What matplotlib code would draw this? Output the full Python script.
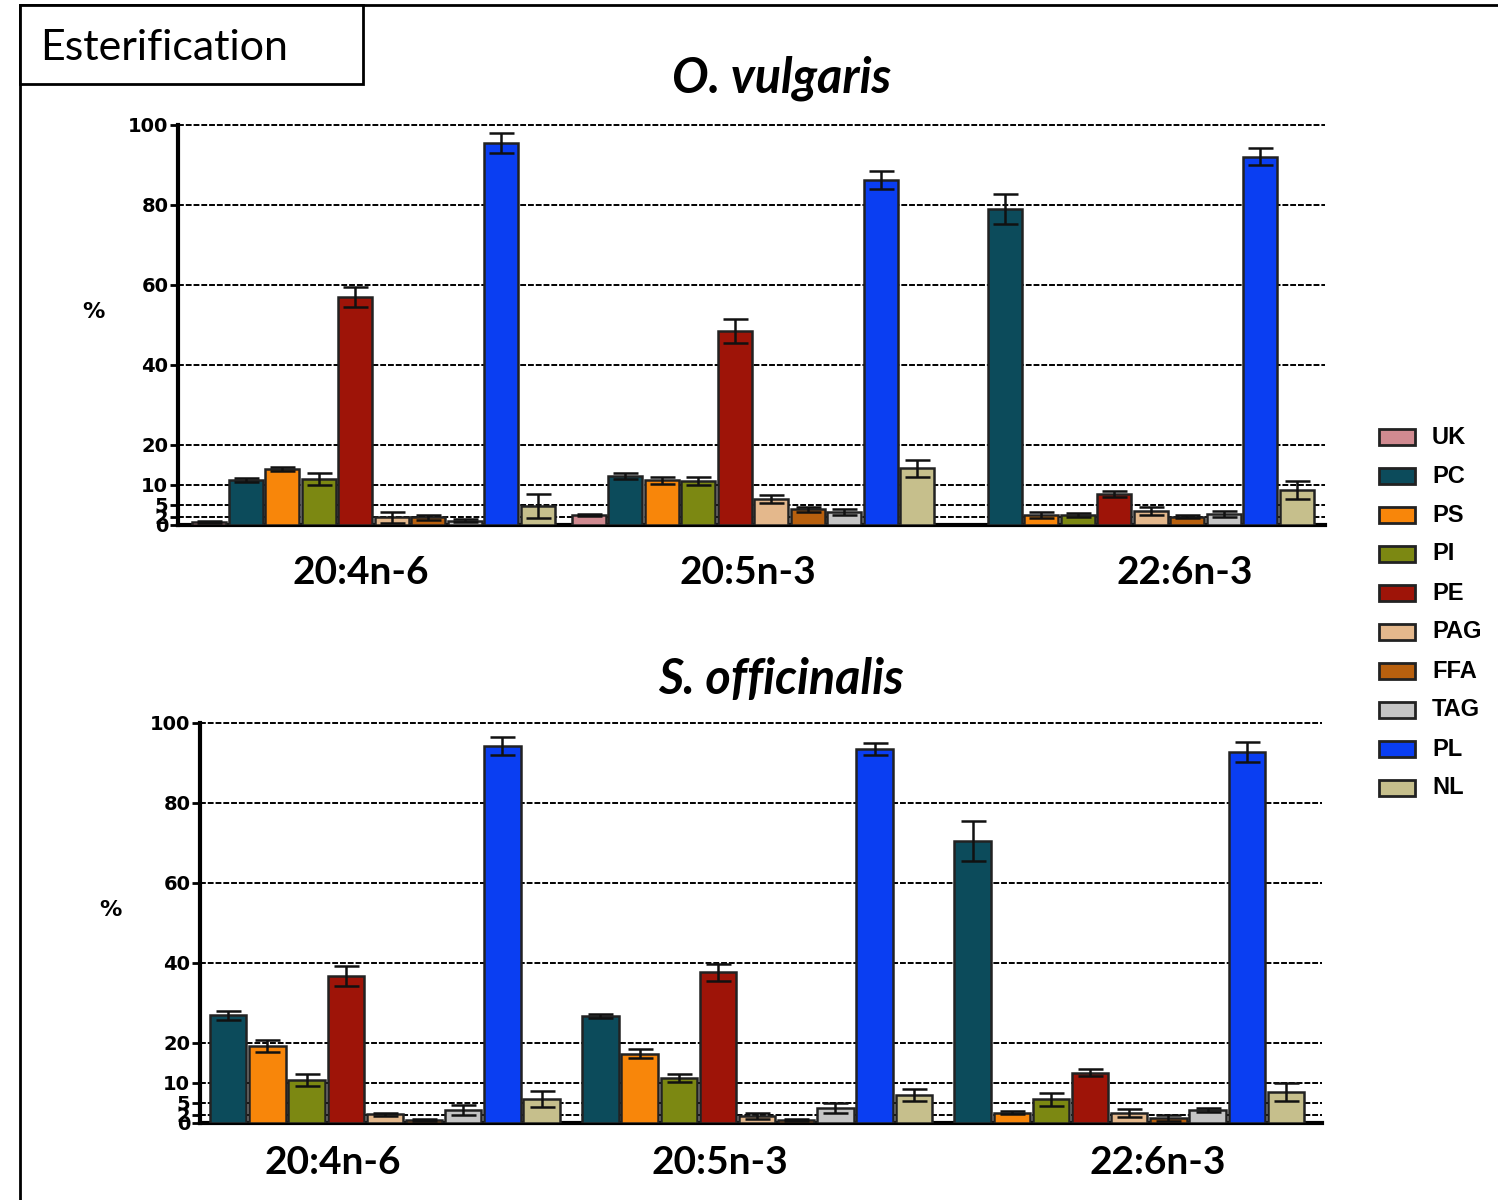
import numpy as np
import matplotlib
matplotlib.use('Agg')
import matplotlib.pyplot as plt
from matplotlib.patches import Rectangle

# lipid classes and colours
classes = ['UK', 'PC', 'PS', 'PI', 'PE', 'PAG', 'FFA', 'TAG', 'PL', 'NL']
colors = ['#d08a90', '#0c4b5b', '#f8860a', '#7c8812', '#9e1408',
          '#e4b88c', '#b8600e', '#c4c4c4', '#0a3ef2', '#c6bf8c']
fatty_acids = ['20:4n-6', '20:5n-3', '22:6n-3']
yticks = [0, 2, 5, 10, 20, 40, 60, 80, 100]

# O. vulgaris: % esterified per class, one row per fatty acid (UK..NL)
vulg_mean = [[0.8, 11.2, 14.0, 11.5, 57.0, 1.9, 1.9, 1.1, 95.5, 4.8],
             [2.5, 12.3, 11.2, 11.0, 48.5, 6.4, 3.9, 3.3, 86.2, 14.2],
             [np.nan, 79.0, 2.5, 2.5, 7.7, 3.5, 2.1, 2.7, 92.0, 8.7]]
vulg_err = [[0.2, 0.5, 0.5, 1.5, 2.5, 1.4, 0.7, 0.3, 2.5, 3.0],
            [0.3, 0.7, 0.9, 1.1, 3.0, 1.0, 0.7, 0.8, 2.2, 2.1],
            [0.0, 3.7, 0.7, 0.4, 0.8, 0.9, 0.4, 0.7, 2.2, 2.3]]

# S. officinalis: no UK fraction (PC..NL)
sepia_mean = [[26.9, 19.2, 10.8, 36.7, 2.2, 0.7, 3.2, 94.2, 6.0],
              [26.7, 17.3, 11.3, 37.6, 1.7, 0.7, 3.8, 93.4, 7.0],
              [70.5, 2.6, 5.9, 12.6, 2.6, 1.3, 3.3, 92.7, 7.7]]
sepia_err = [[1.1, 1.5, 1.5, 2.5, 0.4, 0.2, 1.2, 2.2, 1.9],
             [0.5, 1.1, 1.0, 2.2, 0.7, 0.25, 1.2, 1.5, 1.4],
             [5.0, 0.4, 1.6, 0.8, 1.0, 0.8, 0.5, 2.5, 2.3]]

W, H = 1498, 1200
fig = plt.figure(figsize=(W / 100, H / 100), dpi=100)


def px(x0, y0, x1, y1):
    # pixel box -> figure fraction [left, bottom, width, height]
    return [x0 / W, 1 - y1 / H, (x1 - x0) / W, (y1 - y0) / H]


def draw_panel(ax, means, errs, cls, gap, xmargin):
    n = len(cls)
    for g in range(len(means)):
        for i in range(n):
            v = means[g][i]
            if np.isnan(v):
                continue
            x = g * (n + gap) + i
            c = colors[classes.index(cls[i])]
            ax.bar(x, v, width=0.93, color=c, edgecolor='#222222',
                   linewidth=1.8, zorder=3)
            ax.errorbar(x, v, yerr=errs[g][i], fmt='none', ecolor='#111111',
                        elinewidth=1.8, capsize=9, capthick=1.8, zorder=4)
    last = (len(means) - 1) * (n + gap) + n - 1
    ax.set_xlim(-xmargin[0], last + xmargin[1])
    ax.set_ylim(0, 100.4)
    ax.set_yticks(yticks)
    ax.set_yticklabels([str(t) for t in yticks], fontsize=14,
                       fontweight='heavy', family='DejaVu Sans')
    for t in yticks[1:]:
        ax.axhline(t, color='black', lw=1.4, ls=(0, (3, 1)), zorder=1)
    ax.set_xticks([])
    for s in ['top', 'right']:
        ax.spines[s].set_visible(False)
    ax.spines['left'].set_linewidth(3)
    ax.spines['bottom'].set_linewidth(3)
    ax.spines['left'].set_bounds(0, 100)
    ax.tick_params(axis='y', length=6, width=2, pad=1)


ax1 = fig.add_axes(px(178, 123, 1325, 525))
draw_panel(ax1, vulg_mean, vulg_err, classes, 0.4, (0.85, 0.77))
ax2 = fig.add_axes(px(200, 721, 1322, 1123))
draw_panel(ax2, sepia_mean, sepia_err, classes[1:], 0.5, (0.72, 0.92))

# panel titles, y labels and fatty acid labels
fig.text(782 / W, 1 - 78 / H, 'O. vulgaris', ha='center', va='center',
         fontsize=35, fontweight='bold', style='italic', family='Lato')
fig.text(781 / W, 1 - 679 / H, 'S. officinalis', ha='center', va='center',
         fontsize=35, fontweight='bold', style='italic', family='Lato')
fig.text(93 / W, 1 - 312 / H, '%', ha='center', va='center', fontsize=16,
         fontweight='heavy', family='DejaVu Sans')
fig.text(110 / W, 1 - 910 / H, '%', ha='center', va='center', fontsize=16,
         fontweight='heavy', family='DejaVu Sans')
for lx, fa in zip([361, 748, 1185], fatty_acids):
    fig.text(lx / W, 1 - 572 / H, fa, ha='center', va='center', fontsize=28,
             fontweight='bold', family='Lato')
for lx, fa in zip([333, 720, 1158], fatty_acids):
    fig.text(lx / W, 1 - 1162 / H, fa, ha='center', va='center', fontsize=28,
             fontweight='bold', family='Lato')

# legend
for i, (name, c) in enumerate(zip(classes, colors)):
    yc = 437 + i * 39
    fig.add_artist(Rectangle((1379 / W, 1 - (yc + 8) / H), 36 / W, 16 / H,
                             facecolor=c, edgecolor='#222222', lw=2,
                             transform=fig.transFigure))
    fig.text(1432 / W, 1 - yc / H, name, ha='left', va='center', fontsize=17,
             fontweight='bold', family='Liberation Sans')

# outer frame and heading box
fig.add_artist(Rectangle((20 / W, -0.05), 1.1, 1.05 - 5 / H, fill=False,
                         lw=2, edgecolor='black', transform=fig.transFigure))
fig.add_artist(Rectangle((20 / W, 1 - 84 / H), 343 / W, 79 / H,
                         facecolor='white', lw=2, edgecolor='black',
                         transform=fig.transFigure))
fig.text(40 / W, 1 - 48 / H, 'Esterification', ha='left', va='center',
         fontsize=31, family='Lato')

fig.savefig('out.png', dpi=100)
